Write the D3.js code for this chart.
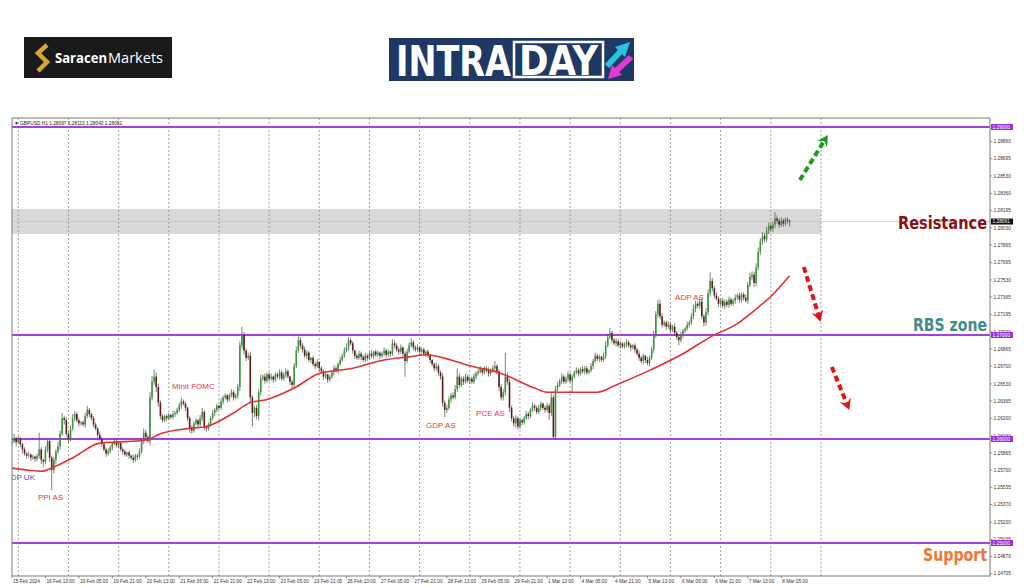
<!DOCTYPE html>
<html>
<head>
<meta charset="utf-8">
<script src="https://d3js.org/d3.v7.min.js"></script>
<style>
body{margin:0;background:#fff;}
svg{display:block;}
</style>
</head>
<body>
<svg id="chart" width="1024" height="587"></svg>
<script>
// GBPUSD H1 closes, one per bar (15 Feb 21:00 -> 8 Mar 09:00)
var firstOpen = 1.2596;
var closes = [
1.2598,1.2601,1.2597,1.2600,1.2595,1.2590,1.2586,1.2584,1.2585,1.2582,
1.2583,1.2581,1.2584,1.2590,1.2580,1.2578,1.2590,1.2598,1.2582,1.2570,
1.2580,1.2588,1.2593,1.2605,1.2620,1.2618,1.2605,1.2600,1.2610,1.2620,
1.2624,1.2618,1.2615,1.2616,1.2614,1.2622,1.2628,1.2624,1.2620,1.2614,
1.2610,1.2604,1.2600,1.2595,1.2590,1.2586,1.2588,1.2592,1.2596,1.2598,
1.2594,1.2596,1.2590,1.2588,1.2585,1.2587,1.2584,1.2582,1.2580,1.2584,
1.2583,1.2588,1.2598,1.2606,1.2602,1.2598,1.2640,1.2655,1.2660,1.2650,
1.2635,1.2622,1.2618,1.2622,1.2620,1.2623,1.2621,1.2624,1.2625,1.2628,
1.2632,1.2636,1.2634,1.2630,1.2620,1.2610,1.2608,1.2615,1.2618,1.2614,
1.2620,1.2626,1.2612,1.2610,1.2614,1.2620,1.2625,1.2628,1.2632,1.2630,
1.2636,1.2640,1.2642,1.2638,1.2642,1.2645,1.2640,1.2642,1.2650,1.2690,
1.2700,1.2685,1.2678,1.2680,1.2640,1.2625,1.2630,1.2622,1.2645,1.2658,
1.2660,1.2656,1.2662,1.2658,1.2660,1.2657,1.2662,1.2660,1.2664,1.2658,
1.2662,1.2665,1.2660,1.2655,1.2652,1.2670,1.2685,1.2695,1.2690,1.2686,
1.2680,1.2683,1.2676,1.2678,1.2672,1.2670,1.2674,1.2668,1.2665,1.2660,
1.2662,1.2657,1.2660,1.2664,1.2668,1.2666,1.2672,1.2676,1.2680,1.2685,
1.2688,1.2695,1.2692,1.2685,1.2680,1.2678,1.2682,1.2679,1.2676,1.2680,
1.2678,1.2682,1.2680,1.2684,1.2681,1.2683,1.2680,1.2682,1.2685,1.2681,
1.2684,1.2682,1.2692,1.2690,1.2686,1.2684,1.2688,1.2682,1.2675,1.2684,
1.2690,1.2693,1.2688,1.2686,1.2688,1.2684,1.2686,1.2682,1.2684,1.2680,
1.2676,1.2672,1.2668,1.2670,1.2664,1.2660,1.2635,1.2628,1.2630,1.2638,
1.2642,1.2640,1.2648,1.2660,1.2652,1.2658,1.2655,1.2660,1.2656,1.2658,
1.2655,1.2660,1.2663,1.2665,1.2667,1.2664,1.2668,1.2666,1.2663,1.2666,
1.2668,1.2670,1.2665,1.2650,1.2640,1.2645,1.2660,1.2655,1.2630,1.2620,
1.2615,1.2620,1.2612,1.2618,1.2616,1.2620,1.2624,1.2622,1.2628,1.2632,
1.2630,1.2626,1.2630,1.2634,1.2630,1.2628,1.2632,1.2625,1.2640,1.2602,
1.2648,1.2652,1.2656,1.2660,1.2655,1.2658,1.2662,1.2656,1.2660,1.2664,
1.2666,1.2663,1.2667,1.2665,1.2668,1.2664,1.2666,1.2670,1.2675,1.2680,
1.2677,1.2679,1.2676,1.2680,1.2690,1.2698,1.2702,1.2695,1.2692,1.2694,
1.2690,1.2692,1.2689,1.2691,1.2693,1.2690,1.2688,1.2690,1.2686,1.2682,
1.2678,1.2675,1.2680,1.2676,1.2673,1.2678,1.2686,1.2700,1.2720,1.2730,
1.2718,1.2710,1.2712,1.2708,1.2710,1.2705,1.2708,1.2702,1.2698,1.2695,
1.2700,1.2704,1.2706,1.2710,1.2712,1.2718,1.2725,1.2730,1.2728,1.2732,
1.2718,1.2712,1.2722,1.2740,1.2752,1.2745,1.2738,1.2735,1.2730,1.2733,
1.2728,1.2732,1.2729,1.2734,1.2730,1.2733,1.2736,1.2738,1.2734,1.2739,
1.2736,1.2733,1.2748,1.2756,1.2758,1.2750,1.2765,1.2780,1.2790,1.2795,
1.2792,1.2800,1.2805,1.2802,1.2806,1.2812,1.2810,1.2806,1.2810,1.2807,
1.2811,1.2810,1.2809];

// wick lengths above / below the body, in pips
var wickUp = [
2,4,1,3,2,1,2,1,3,1, 2,1,2,16,2,1,3,2,1,2, 3,2,4,3,5,2,3,2,3,4, 3,2,2,1,2,3,4,2,1,2,
2,1,3,2,1,2,3,2,1,2, 3,2,1,2,2,1,2,1,3,2, 2,3,2,4,3,2,5,6,7,4, 3,2,2,1,2,2,1,3,2,2,
3,4,2,2,1,2,3,2,2,1, 3,4,2,1,2,2,3,2,2,1, 3,2,2,1,2,3,2,2,3,4, 8,3,2,3,4,2,2,3,3,4,
2,3,2,2,3,1,2,2,3,2, 2,3,2,1,2,3,4,5,3,2, 3,2,2,1,2,2,3,1,2,2, 3,1,2,2,3,2,2,3,2,3,
4,3,2,2,1,2,3,2,2,3, 2,2,3,1,2,2,1,2,3,2, 2,1,4,3,2,2,3,1,2,3, 3,4,2,2,3,1,2,2,1,2,
2,1,2,3,2,2,3,2,3,3, 2,3,4,8,3,2,2,3,2,2, 2,3,2,2,3,1,2,2,3,2, 3,5,2,2,3,3,23,4,3,2,
2,3,2,2,1,2,3,2,2,3, 2,2,3,2,1,2,3,2,5,2, 3,3,2,3,2,2,3,2,2,2, 3,2,2,3,2,2,1,3,2,3,
2,2,1,3,4,3,5,2,2,3, 2,2,1,2,3,2,2,1,2,2, 3,2,2,1,3,2,3,4,3,4, 4,3,2,2,3,2,2,3,2,2,
3,2,2,3,2,3,4,3,2,3, 3,2,4,4,8,3,2,3,2,2, 3,2,2,3,2,2,3,2,3,2, 2,3,3,4,3,3,4,4,3,4,
3,4,3,2,3,6,3,2,3,2, 2,2,1];
var wickDown = [
3,2,4,2,3,4,2,3,2,3, 2,3,2,3,4,5,2,3,4,19, 3,4,2,3,2,4,3,4,2,2, 3,2,3,2,2,3,2,3,2,3,
2,3,2,3,2,3,2,2,3,2, 2,3,2,3,2,2,3,2,3,2, 3,2,2,3,3,2,4,3,3,5, 4,3,2,2,3,2,2,2,3,2,
2,3,2,3,3,4,3,2,2,3, 2,3,4,3,2,2,2,3,2,2, 2,3,2,3,2,2,3,2,3,4, 3,4,3,2,5,13,4,3,4,3,
2,3,2,3,2,3,2,2,3,2, 2,3,2,3,4,3,2,2,3,3, 2,3,2,3,2,3,2,3,2,3, 2,3,2,2,3,2,3,2,2,2,
2,3,2,3,3,2,2,3,2,2, 3,2,2,3,2,2,3,2,2,3, 2,3,2,3,2,3,2,3,15,2, 2,2,3,2,2,3,2,2,3,2,
3,2,3,2,3,3,4,7,3,2, 3,2,2,3,3,2,3,2,2,3, 2,2,3,2,2,3,2,2,3,2, 2,3,3,4,3,3,3,3,4,3,
3,4,3,2,3,2,2,3,2,2, 3,2,2,3,2,3,2,7,3,2, 3,2,2,3,2,2,3,2,11,2, 2,3,2,2,3,2,2,2,3,2,
2,3,2,2,3,2,2,3,2,3, 2,3,2,2,3,2,3,2,3,2, 3,2,3,3,2,3,2,3,3,3, 3,3,2,3,2,3,2,3,3,5,
2,3,2,2,3,2,3,3,2,3, 3,4,3,3,3,3,3,2,3,2, 2,3,2,3,2,2,3,2,3,3, 3,2,3,2,3,4,3,3,3,3,
3,3,3,2,3,3,3,3,2,3, 2,3,5];

// moving average: [bar, price]
var maPoints = [[0,1.2572],[8,1.2570],[14,1.2569],[20,1.2573],[30,1.2583],[42,1.2596],[50,1.2597],
[64,1.2599],[71,1.2605],[84,1.2610],[93,1.2612],[106,1.2625],[114,1.2635],[122,1.2638],[135,1.2649],
[147,1.2663],[163,1.2668],[178,1.2676],[190,1.2679],[198,1.2681],[210,1.2676],[218,1.2671],[234,1.2663],
[250,1.2649],[256,1.2645],[280,1.2645],[289,1.2652],[305,1.2666],[321,1.2682],[334,1.2698],[347,1.2711],
[356,1.2725],[363,1.2737],[372,1.2757]];

var timeLabels = ["15 Feb 2024","16 Feb 13:00","19 Feb 05:00","19 Feb 21:00","20 Feb 13:00","21 Feb 05:00",
"21 Feb 21:00","22 Feb 13:00","23 Feb 05:00","23 Feb 21:00","26 Feb 13:00","27 Feb 05:00","27 Feb 21:00",
"28 Feb 13:00","29 Feb 05:00","29 Feb 21:00","1 Mar 13:00","4 Mar 05:00","4 Mar 21:00","5 Mar 13:00",
"6 Mar 05:00","6 Mar 21:00","7 Mar 13:00","8 Mar 05:00"];
var dayStarts = [3,27,51,75,99,123,147,171,195,219,243,267,291,315,339,363,387];
var priceTicks = [1.28860,1.28695,1.28530,1.28360,1.28195,1.28030,1.27865,1.27695,1.27530,1.27365,1.27195,
1.27030,1.26865,1.26700,1.26530,1.26365,1.26200,1.26030,1.25865,1.25700,1.25535,1.25370,1.25200,1.25035,
1.24870,1.24705];
var levels = [1.29, 1.27, 1.26, 1.25];
var zone = [1.27971, 1.28212];
var lastPrice = 1.28091;
var header = ["1.28097","1.28113","1.28042","1.28091"];

// event notes: [text, bar, price, colour, anchor]
var notes = [["Minit FOMC",76.6,1.26481,"#e23c3c","start"],["GDP AS",198.1,1.26106,"#e23c3c","start"],
["PCE AS",222,1.26221,"#e23c3c","start"],["ADP AS",317.2,1.27337,"#e23c3c","start"],
["PPI AS",12.4,1.25413,"#e23c3c","start"],["GDP UK",11,1.25606,"#3d55d0","end"]];
// scenario arrows: [bar0, price0, bar1, price1, colour]
var arrows = [[376.9,1.28490,390.3,1.28923,"#1e9a1e"],[378.8,1.27654,386.8,1.27128,"#e31414"],
[392.2,1.26692,400.6,1.26279,"#e31414"]];

var pip = 0.0001;
var cLeft = 12, cRight = 990, cTop = 118, cBottom = 576;
var svg = d3.select("#chart");

var x = d3.scaleLinear().domain([0, 372]).range([12, 789.6]);
var y = d3.scaleLinear().domain([1.25, 1.29]).range([543, 127]);

// ---- logos
svg.append("rect").attr("x",24).attr("y",37).attr("width",148).attr("height",41).attr("fill","#1a1a1a");
svg.append("path").attr("d","M47,45 L38,53 L47,62 L38,71").attr("fill","none")
  .attr("stroke","#d6a533").attr("stroke-width",4.5).attr("stroke-linejoin","miter");
svg.append("text").attr("x",55).attr("y",63).text("Saracen")
  .attr("font-family","Open Sans").attr("font-weight",700).attr("font-size",14).attr("fill","#fff")
  .attr("textLength",52).attr("lengthAdjust","spacingAndGlyphs");
svg.append("text").attr("x",108).attr("y",63).text("Markets")
  .attr("font-family","Open Sans").attr("font-weight",400).attr("font-size",14).attr("fill","#fff")
  .attr("textLength",55).attr("lengthAdjust","spacingAndGlyphs");

svg.append("rect").attr("x",389).attr("y",38).attr("width",245).attr("height",43).attr("fill","#1f3864");
svg.append("text").attr("x",396).attr("y",76).text("INTRA")
  .attr("font-family","DejaVu Sans").attr("font-stretch","condensed").attr("font-weight",700)
  .attr("font-size",42).attr("fill","#fff")
  .attr("textLength",115).attr("lengthAdjust","spacingAndGlyphs");
svg.append("rect").attr("x",514).attr("y",42).attr("width",89).attr("height",35)
  .attr("fill","none").attr("stroke","#fff").attr("stroke-width",2.5);
svg.append("text").attr("x",519).attr("y",74.5).text("DAY")
  .attr("font-family","DejaVu Sans").attr("font-stretch","condensed").attr("font-weight",700)
  .attr("font-size",40).attr("fill","#fff")
  .attr("textLength",79).attr("lengthAdjust","spacingAndGlyphs");
svg.append("polygon").attr("points","604.9,63.9 617.9,49.9 615,47 630,42 625,57 622.1,54.1 609.1,68.1").attr("fill","#2ac3e3");
svg.append("polygon").attr("points","628.9,54.9 614.9,67.9 612,65 608,79 622,75 619.1,72.1 633.1,59.1").attr("fill","#e33ad4");

// ---- chart area
svg.append("clipPath").attr("id","clip").append("rect")
  .attr("x",cLeft).attr("y",cTop).attr("width",cRight-cLeft).attr("height",cBottom-cTop);
var g = svg.append("g").attr("clip-path","url(#clip)");

g.append("rect").attr("x",cLeft).attr("y",y(zone[1])).attr("width",x(387)-cLeft)
  .attr("height",y(zone[0])-y(zone[1])).attr("fill","#d9d9d9");

g.selectAll("line.grid").data(dayStarts).enter().append("line").attr("class","grid")
  .attr("x1",function(d){return x(d);}).attr("x2",function(d){return x(d);})
  .attr("y1",cTop).attr("y2",cBottom)
  .attr("stroke","#8c8c8c").attr("stroke-width",0.8).attr("stroke-dasharray","2,2");

g.append("line").attr("x1",cLeft).attr("x2",cRight).attr("y1",y(lastPrice)).attr("y2",y(lastPrice))
  .attr("stroke","#c4c4c4").attr("stroke-width",0.8);

g.selectAll("line.level").data(levels).enter().append("line").attr("class","level")
  .attr("x1",cLeft).attr("x2",cRight)
  .attr("y1",function(d){return y(d);}).attr("y2",function(d){return y(d);})
  .attr("stroke","#a63ee0").attr("stroke-width",1.8);

// candles
var bars = closes.map(function(c,i){
  var o = i == 0 ? firstOpen : closes[i-1];
  return {i:i, o:o, c:c, h:Math.max(o,c)+wickUp[i]*pip, l:Math.min(o,c)-wickDown[i]*pip};
});
g.selectAll("line.wick").data(bars).enter().append("line").attr("class","wick")
  .attr("x1",function(d){return x(d.i);}).attr("x2",function(d){return x(d.i);})
  .attr("y1",function(d){return y(d.h);}).attr("y2",function(d){return y(d.l);})
  .attr("stroke","#4a4a4a").attr("stroke-width",0.7);
g.selectAll("rect.body").data(bars).enter().append("rect").attr("class","body")
  .attr("x",function(d){return x(d.i)-0.8;}).attr("width",1.6)
  .attr("y",function(d){return y(Math.max(d.o,d.c));})
  .attr("height",function(d){return Math.max(0.8, Math.abs(y(d.o)-y(d.c)));})
  .attr("fill",function(d){return d.c >= d.o ? "#379a3a" : "#5f1d1d";});

var ma = d3.line().x(function(d){return x(d[0]);}).y(function(d){return y(d[1]);}).curve(d3.curveMonotoneX);
g.append("path").datum(maPoints).attr("d",ma).attr("fill","none").attr("stroke","#e03232").attr("stroke-width",1.6);

g.selectAll("text.note").data(notes).enter().append("text").attr("class","note")
  .attr("x",function(d){return x(d[1]);}).attr("y",function(d){return y(d[2]);})
  .attr("text-anchor",function(d){return d[4];})
  .attr("fill",function(d){return d[3];})
  .attr("font-family","Liberation Sans, Arial").attr("font-size",8)
  .text(function(d){return d[0];});

// scenario arrows
arrows.forEach(function(a){
  var x0 = x(a[0]), y0 = y(a[1]), x1 = x(a[2]), y1 = y(a[3]);
  var ang = Math.atan2(y1-y0, x1-x0);
  var bx = x1 - Math.cos(ang)*7, by = y1 - Math.sin(ang)*7;
  g.append("line").attr("x1",x0).attr("y1",y0).attr("x2",bx).attr("y2",by)
    .attr("stroke",a[4]).attr("stroke-width",4).attr("stroke-dasharray","6,3.5");
  g.append("path").attr("d","M0,0 L-11,-6 L-7,0 L-11,6 Z")
    .attr("transform","translate("+x1+","+y1+") rotate("+(ang*180/Math.PI)+")")
    .attr("fill",a[4]);
});

// side labels
var side = [["Resistance",898,229,89,"#8b1212"],["RBS zone",913,331,74,"#3f8c8c"],["Support",923,561,64,"#f07632"]];
svg.selectAll("text.side").data(side).enter().append("text").attr("class","side")
  .attr("x",function(d){return d[1];}).attr("y",function(d){return d[2];})
  .attr("textLength",function(d){return d[3];}).attr("lengthAdjust","spacingAndGlyphs")
  .attr("font-family","DejaVu Sans").attr("font-weight",700).attr("font-size",17)
  .attr("fill",function(d){return d[4];}).text(function(d){return d[0];});

// frame
svg.append("rect").attr("x",cLeft).attr("y",cTop).attr("width",cRight-cLeft).attr("height",cBottom-cTop)
  .attr("fill","none").attr("stroke","#7a7a7a").attr("stroke-width",1);

svg.append("text").attr("x",14).attr("y",124.5)
  .attr("font-family","Liberation Sans, Arial").attr("font-size",4.8).attr("fill","#222")
  .text("\u25BC GBPUSD.H1  " + header.join(" "));

// price axis
var ax = svg.append("g");
ax.selectAll("line").data(priceTicks).enter().append("line")
  .attr("x1",cRight).attr("x2",cRight+2.5)
  .attr("y1",function(d){return y(d);}).attr("y2",function(d){return y(d);})
  .attr("stroke","#555").attr("stroke-width",0.6);
ax.selectAll("text").data(priceTicks).enter().append("text")
  .attr("x",cRight+3.5).attr("y",function(d){return y(d)+1.7;})
  .attr("font-family","Liberation Sans, Arial").attr("font-size",4.8).attr("fill","#333")
  .text(function(d){return d.toFixed(5);});

var tags = levels.map(function(v){return [v,"#9b30d9"];}).concat([[lastPrice,"#111"]]);
tags.forEach(function(t){
  svg.append("rect").attr("x",cRight+1).attr("y",y(t[0])-3).attr("width",22).attr("height",6).attr("fill",t[1]);
  svg.append("text").attr("x",cRight+2.5).attr("y",y(t[0])+1.7)
    .attr("font-family","Liberation Sans, Arial").attr("font-size",4.8).attr("fill","#fff")
    .text(t[0].toFixed(5));
});

// time axis
var tx = svg.append("g");
tx.selectAll("line").data(timeLabels).enter().append("line")
  .attr("x1",function(d,i){return x(i*16);}).attr("x2",function(d,i){return x(i*16);})
  .attr("y1",cBottom).attr("y2",cBottom+2.5).attr("stroke","#555").attr("stroke-width",0.6);
tx.selectAll("text").data(timeLabels).enter().append("text")
  .attr("x",function(d,i){return x(i*16)+1;}).attr("y",cBottom+7)
  .attr("font-family","Liberation Sans, Arial").attr("font-size",4.8).attr("fill","#333")
  .text(function(d){return d;});
</script>
</body>
</html>
